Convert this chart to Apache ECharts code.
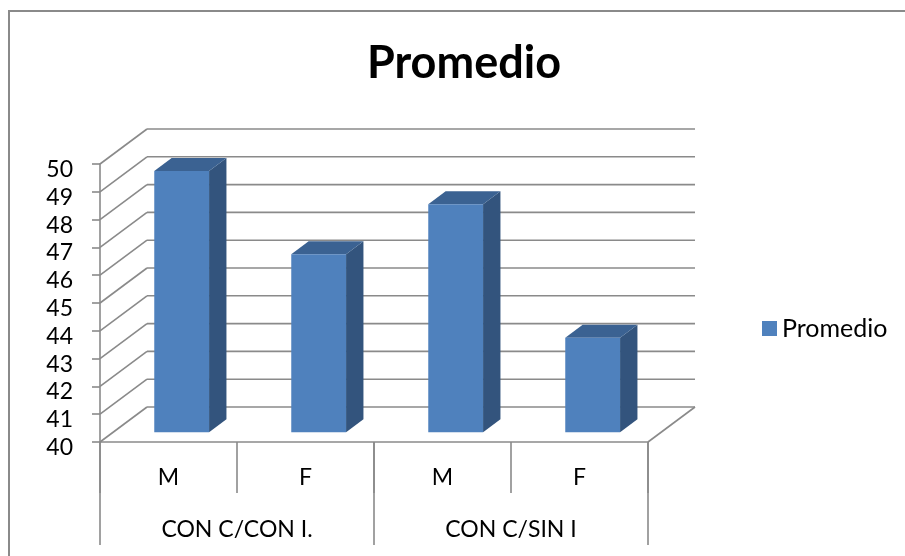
<!DOCTYPE html>
<html>
<head>
<meta charset="utf-8">
<title>Promedio</title>
<script src="https://cdn.jsdelivr.net/npm/echarts@6/dist/echarts.min.js"></script>
<style>
  html, body { margin: 0; padding: 0; background: #fff; }
  #chart { width: 905px; height: 556px; }
</style>
</head>
<body>
<div id="chart"></div>
<script>
// Categories: first level (sex) and second level (group)
const categories = ['M', 'F', 'M', 'F'];
const groups = ['CON C/CON I.', 'CON C/SIN I'];
// Average per category
const promedio = [49.4, 46.4, 48.2, 43.4];
// Value axis ticks (also used for the wall grid lines)
const yTicks = [40, 41, 42, 43, 44, 45, 46, 47, 48, 49, 50];

const FONT = 'Lato, "Open Sans", "Noto Sans", sans-serif';
const GRID_COLOR = '#8a8a8a';
const BAR_FRONT = '#4f81bd';
const BAR_SIDE = '#33547d';
const BAR_TOP = '#3b6292';

// Depth vector of the 3D floor (pixels) and placement of the bars inside it
const DX = 47, DY = -35;
const BAR_FRONT_POS = 0.28;
const BAR_DEPTH = 0.37;

const yMin = yTicks[0];
const yMax = yTicks[yTicks.length - 1];

const chart = echarts.init(document.getElementById('chart'), null, { renderer: 'canvas' });

function renderWalls(params, api) {
  const cs = params.coordSys;
  const v = api.value(1);
  const y = api.coord([0, v])[1];
  const x0 = cs.x, x1 = cs.x + cs.width;
  const style = { stroke: GRID_COLOR, lineWidth: 1.6, fill: null };
  const children = [
    { type: 'line', shape: { x1: x0, y1: y, x2: x0 + DX, y2: y + DY }, style },
    { type: 'line', shape: { x1: x0 + DX, y1: y + DY, x2: x1 + DX, y2: y + DY }, style }
  ];
  if (v === yMin) {
    children.push({ type: 'line', shape: { x1: x1, y1: y, x2: x1 + DX, y2: y + DY }, style });
  }
  return { type: 'group', children };
}

function renderBar(params, api) {
  const i = api.value(0);
  const v = api.value(1);
  const top = api.coord([i, v]);
  const base = api.coord([i, yMin]);
  const w = api.size([1, 0])[0] * 0.4;
  const fx = BAR_FRONT_POS * DX, fy = BAR_FRONT_POS * DY;
  const ddx = BAR_DEPTH * DX, ddy = BAR_DEPTH * DY;
  const xl = top[0] - w / 2 + fx;
  const xr = xl + w;
  const yt = top[1] + fy;
  const yb = base[1] + fy;
  return {
    type: 'group',
    children: [
      { type: 'polygon', shape: { points: [[xr, yt], [xr + ddx, yt + ddy], [xr + ddx, yb + ddy], [xr, yb]] },
        style: { fill: BAR_SIDE } },
      { type: 'polygon', shape: { points: [[xl, yt], [xl + ddx, yt + ddy], [xr + ddx, yt + ddy], [xr, yt]] },
        style: { fill: BAR_TOP } },
      { type: 'rect', shape: { x: xl, y: yt, width: w, height: yb - yt },
        style: { fill: BAR_FRONT } }
    ]
  };
}

const option = {
  backgroundColor: '#ffffff',
  animation: false,
  title: {
    text: 'Promedio',
    left: 459,
    textAlign: 'center',
    top: 36,
    textStyle: { fontFamily: FONT, fontSize: 45, fontWeight: 'bold', color: '#000' }
  },
  legend: {
    data: ['Promedio'],
    left: 762,
    top: 316,
    padding: 0,
    icon: 'rect',
    itemWidth: 15,
    itemHeight: 15,
    itemGap: 5,
    textStyle: { fontFamily: FONT, fontSize: 25, color: '#000' }
  },
  grid: { left: 100, top: 164, width: 548, height: 278, containLabel: false },
  xAxis: [
    {
      type: 'category',
      data: categories,
      position: 'bottom',
      axisLine: { show: true, lineStyle: { color: GRID_COLOR, width: 1.6 } },
      axisTick: { show: true, length: 51, lineStyle: { color: GRID_COLOR, width: 1.6 } },
      axisLabel: { margin: 24, fontFamily: FONT, fontSize: 23, color: '#000' },
      splitLine: { show: false }
    },
    {
      type: 'category',
      data: groups,
      position: 'bottom',
      axisLine: { show: false },
      axisTick: { show: true, length: 103, lineStyle: { color: GRID_COLOR, width: 1.6 } },
      axisLabel: { margin: 76, fontFamily: FONT, fontSize: 23, color: '#000' },
      splitLine: { show: false }
    }
  ],
  yAxis: {
    type: 'value',
    min: yMin,
    max: yMax,
    interval: 1,
    axisLine: { show: true, lineStyle: { color: GRID_COLOR, width: 1.6 } },
    axisTick: { show: true, length: 8, lineStyle: { color: GRID_COLOR, width: 1.6 } },
    axisLabel: { margin: 27, fontFamily: FONT, fontSize: 23, color: '#000', verticalAlign: 'top', lineHeight: 11 },
    splitLine: { show: false }
  },
  graphic: [
    {
      type: 'rect',
      shape: { x: 9, y: 11, width: 920, height: 600 },
      style: { fill: null, stroke: GRID_COLOR, lineWidth: 2 },
      silent: true,
      z: -1
    }
  ],
  series: [
    {
      name: 'walls',
      type: 'custom',
      clip: false,
      silent: true,
      z: 1,
      renderItem: renderWalls,
      data: yTicks.map(v => [0, v])
    },
    {
      name: 'Promedio',
      type: 'custom',
      clip: false,
      z: 2,
      itemStyle: { color: BAR_FRONT },
      renderItem: renderBar,
      data: promedio.map((v, i) => [i, v])
    }
  ]
};

chart.setOption(option);
</script>
</body>
</html>
